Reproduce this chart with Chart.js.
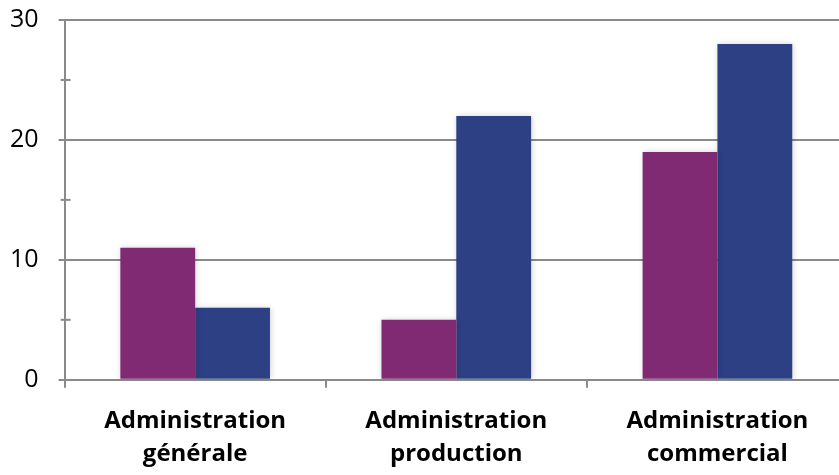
<!DOCTYPE html>
<html>
<head>
<meta charset="utf-8">
<script src="https://cdn.jsdelivr.net/npm/chart.js@4.4.1/dist/chart.umd.min.js"></script>
<style>
  html, body { margin: 0; padding: 0; background: #fff; overflow: hidden; }
  #wrap { position: relative; left: -10px; top: -15px; width: 858px; height: 503px; }
</style>
</head>
<body>
<div id="wrap"><canvas id="chart"></canvas></div>
<script>
// categories and values
const categories = [['Administration', 'générale'], ['Administration', 'production'], ['Administration', 'commercial']];
const seriesA = [11, 5, 19];
const seriesB = [6, 22, 28];
const yTickLabels = [0, 10, 20, 30];

const gridGray = '#8a8a8a';

// soft shadow behind the bars, minor ticks that cross the y axis
const barShadow = {
    id: 'barShadow',
    beforeDatasetsDraw(chart) {
        const ctx = chart.ctx;
        ctx.save();
        ctx.shadowColor = 'rgba(0,0,0,0.18)';
        ctx.shadowBlur = 6;
        ctx.shadowOffsetX = 1;
        ctx.shadowOffsetY = 0;
    },
    afterDatasetsDraw(chart) {
        chart.ctx.restore();
    }
};

const minorTicks = {
    id: 'minorTicks',
    afterDraw(chart) {
        const y = chart.scales.y;
        const ctx = chart.ctx;
        const x0 = chart.chartArea.left;
        ctx.save();
        ctx.strokeStyle = gridGray;
        ctx.lineWidth = 2;
        [5, 15, 25].forEach(v => {
            const py = y.getPixelForValue(v);
            ctx.beginPath();
            ctx.moveTo(x0 - 4, py);
            ctx.lineTo(x0 + 6, py);
            ctx.stroke();
        });
        ctx.restore();
    }
};

new Chart(document.getElementById('chart'), {
    type: 'bar',
    data: {
        labels: categories,
        datasets: [
            { data: seriesA, backgroundColor: '#7f2a72', barPercentage: 1, categoryPercentage: 0.573 },
            { data: seriesB, backgroundColor: '#2d4084', barPercentage: 1, categoryPercentage: 0.573 }
        ]
    },
    options: {
        responsive: true,
        maintainAspectRatio: false,
        animation: false,
        layout: { padding: 0 },
        plugins: { legend: { display: false }, tooltip: { enabled: false } },
        scales: {
            x: {
                grid: { offset: true, drawOnChartArea: false, color: gridGray, lineWidth: 2, tickLength: 8 },
                border: { color: gridGray, width: 2 },
                ticks: { color: '#000', padding: 17, font: { family: 'Open Sans', size: 24, weight: 'bold', lineHeight: 1.38 }, maxRotation: 0 }
            },
            y: {
                min: 0,
                max: 30,
                afterBuildTicks(scale) {
                    scale.ticks = yTickLabels.map(v => ({ value: v }));
                },
                grid: { color: gridGray, lineWidth: 2, tickLength: 6 },
                border: { color: gridGray, width: 2 },
                ticks: { color: '#000', padding: 20, font: { family: 'Open Sans', size: 25 } }
            }
        }
    },
    plugins: [barShadow, minorTicks]
});
</script>
</body>
</html>
